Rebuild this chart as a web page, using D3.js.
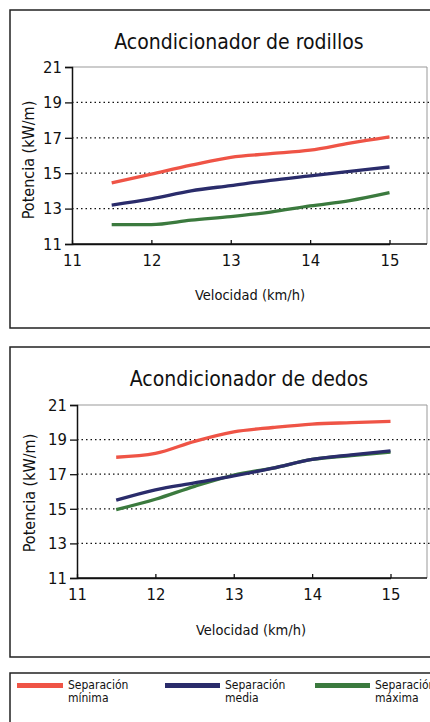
<!DOCTYPE html>
<html>
<head>
<meta charset="utf-8">
<script src="https://cdn.jsdelivr.net/npm/d3@7"></script>
<style>
  body { margin: 0; background: #fff; }
  svg { display: block; }
  text { font-family: "DejaVu Sans Condensed", "DejaVu Sans", sans-serif; fill: #111; }
</style>
</head>
<body>
<div id="chart"></div>
<script>
"use strict";

var velocidad = [11.5, 12, 12.5, 13, 13.5, 14, 14.5, 15];

// Acondicionador de rodillos
var rodMinima = [14.45, 14.95, 15.45, 15.9, 16.1, 16.3, 16.7, 17.05];
var rodMedia  = [13.2, 13.55, 14.0, 14.3, 14.6, 14.85, 15.1, 15.35];
var rodMaxima = [12.1, 12.1, 12.35, 12.55, 12.8, 13.15, 13.45, 13.9];

// Acondicionador de dedos
var dedMinima = [17.98, 18.2, 18.9, 19.45, 19.7, 19.9, 19.98, 20.05];
var dedMedia  = [15.5, 16.1, 16.5, 16.9, 17.35, 17.85, 18.12, 18.35];
var dedMaxima = [14.95, 15.55, 16.3, 16.95, 17.35, 17.85, 18.08, 18.28];

var xTicks = [11, 12, 13, 14, 15];
var yTicks = [11, 13, 15, 17, 19, 21];
var gridTicks = [13, 15, 17, 19];

var seriesNames = ["Separación\nmínima", "Separación\nmedia", "Separación\nmáxima"];
var colors = ["#ef5446", "#2a2c6b", "#3b7a3e"];

var width = 430;
var height = 722;

var svg = d3.select("#chart").append("svg")
	.attr("width", width)
	.attr("height", height);

function drawPanel(p) {
	var g = svg.append("g");

	// panel frame (right side runs off the page)
	g.append("path")
		.attr("d", "M" + 460 + "," + p.boxTop + "H10V" + p.boxBottom + "H460")
		.attr("fill", "none")
		.attr("stroke", "#222")
		.attr("stroke-width", 1.5);

	var x = d3.scaleLinear().domain([11, 15]).range(p.xRange);
	var y = d3.scaleLinear().domain([11, 21]).range(p.yRange);

	g.append("text")
		.attr("x", p.titleX)
		.attr("y", p.titleY)
		.attr("text-anchor", "middle")
		.style("font-size", "21px")
		.text(p.title);

	// plot frame top / right
	g.append("path")
		.attr("d", "M" + x(11) + "," + y(21) + "H427V" + y(11))
		.attr("fill", "none")
		.attr("stroke", "#999")
		.attr("stroke-width", 1);

	g.selectAll("line.grid")
		.data(gridTicks)
		.enter()
		.append("line")
		.attr("class", "grid")
		.attr("x1", x(11))
		.attr("x2", 430)
		.attr("y1", function(d) { return y(d); })
		.attr("y2", function(d) { return y(d); })
		.attr("stroke", "#111")
		.attr("stroke-width", 1.3)
		.attr("stroke-dasharray", "1.5,3");

	var line = d3.line()
		.x(function(d, i) { return x(velocidad[i]); })
		.y(function(d) { return y(d); })
		.curve(d3.curveMonotoneX);

	var order = [0, 2, 1];
	order.forEach(function(k) {
		g.append("path")
			.datum(p.series[k])
			.attr("d", line)
			.attr("fill", "none")
			.attr("stroke", colors[k])
			.attr("stroke-width", 3.3);
	});

	var yAxis = g.append("g")
		.attr("transform", "translate(" + x(11) + ",0)")
		.call(d3.axisLeft(y).tickValues(yTicks).tickSize(7).tickPadding(3).tickFormat(d3.format("d")));
	yAxis.select(".domain").attr("stroke", "#111").attr("stroke-width", 1.5);
	yAxis.selectAll(".tick line").attr("stroke", "#111").attr("stroke-width", 1.3);
	yAxis.selectAll("text").style("font-size", "16.5px").style("font-family", "DejaVu Sans Condensed").attr("fill", "#111");

	var xAxis = g.append("g")
		.attr("transform", "translate(0," + y(11) + ")")
		.call(d3.axisBottom(x).tickValues(xTicks).tickSizeInner(-4).tickSizeOuter(0).tickPadding(10).tickFormat(d3.format("d")));
	xAxis.select(".domain").attr("stroke", "#111").attr("stroke-width", 1.5);
	xAxis.selectAll(".tick line").attr("stroke", "#111").attr("stroke-width", 1.3);
	xAxis.selectAll("text").style("font-size", "16.5px").style("font-family", "DejaVu Sans Condensed").attr("fill", "#111");

	// extend x axis line to the plot frame
	g.append("line")
		.attr("x1", x(11)).attr("x2", 427)
		.attr("y1", y(11)).attr("y2", y(11))
		.attr("stroke", "#111").attr("stroke-width", 1.5);

	g.append("text")
		.attr("x", p.xLabelX)
		.attr("y", p.xLabelY)
		.attr("text-anchor", "middle")
		.style("font-size", "14.5px")
		.text("Velocidad (km/h)");

	g.append("text")
		.attr("transform", "translate(" + p.yLabelX + "," + p.yLabelY + ") rotate(-90)")
		.attr("text-anchor", "middle")
		.style("font-size", "16px")
		.text("Potencia (kW/m)");
}

drawPanel({
	title: "Acondicionador de rodillos",
	boxTop: 10, boxBottom: 328,
	titleX: 239, titleY: 49,
	xRange: [72, 389.5], yRange: [244, 67],
	xLabelX: 250, xLabelY: 300,
	yLabelX: 34, yLabelY: 160,
	series: [rodMinima, rodMedia, rodMaxima]
});

drawPanel({
	title: "Acondicionador de dedos",
	boxTop: 347, boxBottom: 657,
	titleX: 249, titleY: 386,
	xRange: [77, 390.5], yRange: [578, 405],
	xLabelX: 251, xLabelY: 635,
	yLabelX: 35, yLabelY: 493,
	series: [dedMinima, dedMedia, dedMaxima]
});

// legend
svg.append("path")
	.attr("d", "M460,673H10V730")
	.attr("fill", "none")
	.attr("stroke", "#222")
	.attr("stroke-width", 1.5);

var legendX = [17, 165, 315];
var legend = svg.selectAll("g.legend")
	.data(seriesNames)
	.enter()
	.append("g")
	.attr("class", "legend")
	.attr("transform", function(d, i) { return "translate(" + legendX[i] + ",0)"; });

legend.append("rect")
	.attr("x", 0)
	.attr("y", 683)
	.attr("width", function(d, i) { return i == 0 ? 46 : 55; })
	.attr("height", 5)
	.attr("fill", function(d, i) { return colors[i]; });

legend.append("text")
	.attr("x", function(d, i) { return i == 0 ? 51 : 60; })
	.attr("y", 689)
	.style("font-size", "12px")
	.selectAll("tspan")
	.data(function(d) { return d.split("\n"); })
	.enter()
	.append("tspan")
	.attr("x", function() { return d3.select(this.parentNode).attr("x"); })
	.attr("dy", function(d, i) { return i == 0 ? 0 : 13; })
	.text(function(d) { return d; });
</script>
</body>
</html>
